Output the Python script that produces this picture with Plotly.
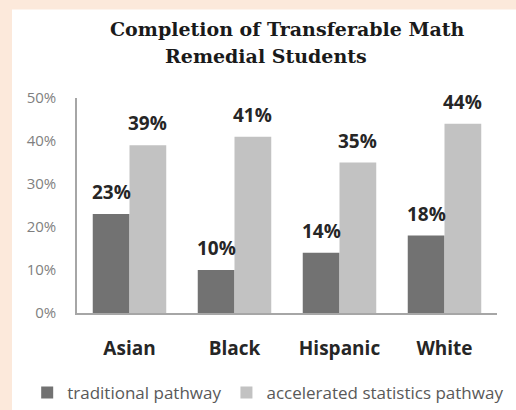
import plotly.graph_objects as go

categories = ["Asian", "Black", "Hispanic", "White"]
traditional = [23, 10, 14, 18]
accelerated = [39, 41, 35, 44]
series_names = ["traditional pathway", "accelerated statistics pathway"]
y_ticks = [0, 10, 20, 30, 40, 50]
y_tick_labels = ["0%", "10%", "20%", "30%", "40%", "50%"]
title_lines = ["Completion of Transferable Math", "Remedial Students"]

DARK = "#727272"
LIGHT = "#c2c2c2"
SANS = "Open Sans, Liberation Sans, sans-serif"
SERIF = "DejaVu Serif, Liberation Serif, serif"

fig = go.Figure()
fig.add_trace(go.Bar(x=categories, y=traditional, name=series_names[0],
                     marker=dict(color=DARK, line=dict(width=0))))
fig.add_trace(go.Bar(x=categories, y=accelerated, name=series_names[1],
                     marker=dict(color=LIGHT, line=dict(width=0))))

annotations = []
for vals, shift in ((traditional, -18.4), (accelerated, 18.4)):
    for c, v in zip(categories, vals):
        annotations.append(dict(x=c, y=v, xref="x", yref="y", text=f"{v}%",
                                showarrow=False, xshift=shift, yshift=22,
                                yanchor="middle",
                                font=dict(family=SANS, size=19, color="#262626",
                                          weight="bold")))

annotations.append(dict(x=0.5, y=1.321, xref="paper", yref="paper",
                        text=title_lines[0], showarrow=False,
                        xanchor="center", yanchor="middle",
                        font=dict(family=SERIF, size=19, color="#1a1a1a", weight="bold")))
annotations.append(dict(x=0.45, y=1.195, xref="paper", yref="paper",
                        text=title_lines[1], showarrow=False,
                        xanchor="center", yanchor="middle",
                        font=dict(family=SERIF, size=19, color="#1a1a1a", weight="bold")))

PEACH = "#fce9db"
shapes = [
    dict(type="rect", xref="paper", yref="paper", x0=-0.3, x1=-0.15476, y0=-1, y1=2,
         fillcolor=PEACH, line=dict(width=0), layer="below"),
    dict(type="rect", xref="paper", yref="paper", x0=-0.3, x1=1.3, y0=1.4116, y1=2,
         fillcolor=PEACH, line=dict(width=0), layer="below"),
]

fig.update_layout(
    width=516, height=410,
    margin=dict(l=77, r=19, t=98, b=97, autoexpand=False),
    paper_bgcolor="white", plot_bgcolor="white",
    barmode="group", bargap=0.3, bargroupgap=0,
    showlegend=True,
    legend=dict(orientation="h", x=-0.1186, xanchor="left", y=-0.372, yanchor="middle",
                font=dict(family=SANS, size=17, color="#595959"),
                itemsizing="constant", bgcolor="rgba(0,0,0,0)"),
    annotations=annotations,
    shapes=shapes,
    xaxis=dict(showline=True, linecolor="#a6a6a6", linewidth=1.5, ticks="",
               showgrid=False, ticklabelstandoff=17,
               tickfont=dict(family=SANS, size=19, color="#262626", weight="bold")),
    yaxis=dict(range=[0, 50], tickvals=y_ticks, ticktext=y_tick_labels,
               showline=True, linecolor="#a6a6a6", linewidth=1.5, ticks="",
               showgrid=False, zeroline=False, ticklabelstandoff=16,
               tickfont=dict(family=SANS, size=15, color="#7f7f7f")),
)

fig.write_html("out.html", config={"displayModeBar": False},
               post_script="document.body.style.margin='0';document.body.style.overflow='hidden';")
